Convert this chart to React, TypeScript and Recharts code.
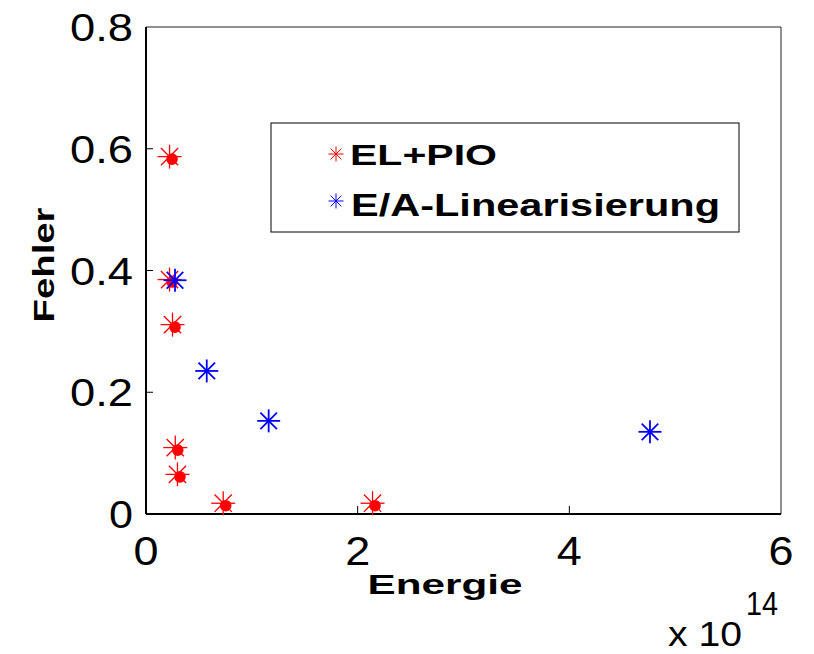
import { ScatterChart, Scatter, XAxis, YAxis, ReferenceLine } from "recharts";

// Energie (x 10^14) / Fehler
const elPioEnergie = [0.246, 0.246, 0.274, 0.3, 0.321, 0.753, 2.164];
const elPioFehler = [0.583, 0.381, 0.307, 0.105, 0.061, 0.0136, 0.0136];
const linEnergie = [0.274, 0.574, 1.159, 4.762];
const linFehler = [0.384, 0.235, 0.153, 0.135];

const xTicks = [0, 2, 4, 6];
const yTicks = [0, 0.2, 0.4, 0.6, 0.8];
const xTickLabels = ["0", "2", "4", "6"];
const yTickLabels = ["0", "0.2", "0.4", "0.6", "0.8"];

const elPio = elPioEnergie.map((e, i) => ({ x: e, y: elPioFehler[i] }));
const lin = linEnergie.map((e, i) => ({ x: e, y: linFehler[i] }));

const FONT = "'Liberation Sans', Arial, sans-serif";

function Star({ cx, cy, r, color, w }: { cx: number; cy: number; r: number; color: string; w: number }) {
  const d = r * 0.72;
  return (
    <g stroke={color} strokeWidth={w}>
      <line x1={cx - r} y1={cy} x2={cx + r} y2={cy} />
      <line x1={cx} y1={cy - r} x2={cx} y2={cy + r} />
      <line x1={cx - d} y1={cy - d} x2={cx + d} y2={cy + d} />
      <line x1={cx - d} y1={cy + d} x2={cx + d} y2={cy - d} />
    </g>
  );
}

const redShape = (p: any) => (
  <g>
    <Star cx={p.cx - 2.5} cy={p.cy - 2.5} r={12} color="#ff0000" w={1.3} />
    <circle cx={p.cx} cy={p.cy} r={5.8} fill="#ff0000" />
  </g>
);

const blueShape = (p: any) => <Star cx={p.cx} cy={p.cy} r={11.5} color="#0000ff" w={1.8} />;

const yTick = (p: any) => {
  const i = yTicks.indexOf(p.payload.value);
  const label = yTickLabels[i] ?? String(p.payload.value);
  return (
    <g>
      {i > 0 && i < yTicks.length - 1 && (
        <line x1={p.x} y1={p.y} x2={p.x + 7} y2={p.y} stroke="#000" strokeWidth={1} />
      )}
      <text
        x={p.x - 13}
        y={p.y + 14}
        textAnchor="end"
        fontFamily={FONT}
        fontSize={39}
        fill="#000"
        textLength={label.length > 1 ? 63 : 24}
        lengthAdjust="spacingAndGlyphs"
      >
        {label}
      </text>
    </g>
  );
};

const xTick = (p: any) => {
  const i = xTicks.indexOf(p.payload.value);
  const label = xTickLabels[i] ?? String(p.payload.value);
  return (
    <g>
      {i > 0 && i < xTicks.length - 1 && (
        <line x1={p.x} y1={p.y} x2={p.x} y2={p.y - 8} stroke="#000" strokeWidth={1} />
      )}
      <text
        x={p.x}
        y={p.y + 51}
        textAnchor="middle"
        fontFamily={FONT}
        fontSize={40}
        fill="#000"
        textLength={25}
        lengthAdjust="spacingAndGlyphs"
      >
        {label}
      </text>
    </g>
  );
};

export default function App() {
  return (
    <div style={{ position: "absolute", left: 0, top: 0, width: 814, height: 654, background: "#fff" }}>
      <ScatterChart width={814} height={654} margin={{ top: 27, right: 33, bottom: 0, left: 0 }}>
        <XAxis
          type="number"
          dataKey="x"
          domain={[0, 6]}
          ticks={xTicks}
          height={140}
          tickSize={0}
          tickMargin={0}
          tickLine={false}
          axisLine={{ stroke: "#000", strokeWidth: 2 }}
          tick={xTick}
          interval={0}
        />
        <YAxis
          type="number"
          dataKey="y"
          domain={[0, 0.8]}
          ticks={yTicks}
          width={146}
          tickSize={0}
          tickMargin={0}
          tickLine={false}
          axisLine={{ stroke: "#000", strokeWidth: 2 }}
          tick={yTick}
          interval={0}
        />
        <ReferenceLine y={0.8} stroke="#222" strokeWidth={1} />
        <ReferenceLine x={6} stroke="#222" strokeWidth={1} />
        <Scatter data={elPio} shape={redShape} isAnimationActive={false} />
        <Scatter data={lin} shape={blueShape} isAnimationActive={false} />
      </ScatterChart>
      <svg width={814} height={654} style={{ position: "absolute", left: 0, top: 0, pointerEvents: "none" }}>
        <text
          transform="translate(54,265) rotate(-90)"
          textAnchor="middle"
          fontFamily={FONT}
          fontWeight="bold"
          fontSize={30}
          textLength={115}
          lengthAdjust="spacingAndGlyphs"
          fill="#000"
        >
          Fehler
        </text>
        <text
          x={445}
          y={594}
          textAnchor="middle"
          fontFamily={FONT}
          fontWeight="bold"
          fontSize={27}
          textLength={155}
          lengthAdjust="spacingAndGlyphs"
          fill="#000"
        >
          Energie
        </text>
        <text x={668} y={646} fontFamily={FONT} fontSize={35} textLength={74} lengthAdjust="spacingAndGlyphs" fill="#000">
          x 10
        </text>
        <text x={746} y={615} fontFamily={FONT} fontSize={34} textLength={32} lengthAdjust="spacingAndGlyphs" fill="#000">
          14
        </text>
        <rect x={271} y={123} width={468} height={109} fill="#fff" stroke="#000" strokeWidth={1} />
        <Star cx={336} cy={154} r={7.5} color="#ff0000" w={1} />
        <Star cx={336} cy={201} r={7.5} color="#0000ff" w={1} />
        <text x={350} y={165} fontFamily={FONT} fontWeight="bold" fontSize={30} textLength={147} lengthAdjust="spacingAndGlyphs" fill="#000">
          EL+PIO
        </text>
        <text x={351} y={216} fontFamily={FONT} fontWeight="bold" fontSize={31} textLength={369} lengthAdjust="spacingAndGlyphs" fill="#000">
          E/A-Linearisierung
        </text>
      </svg>
    </div>
  );
}
